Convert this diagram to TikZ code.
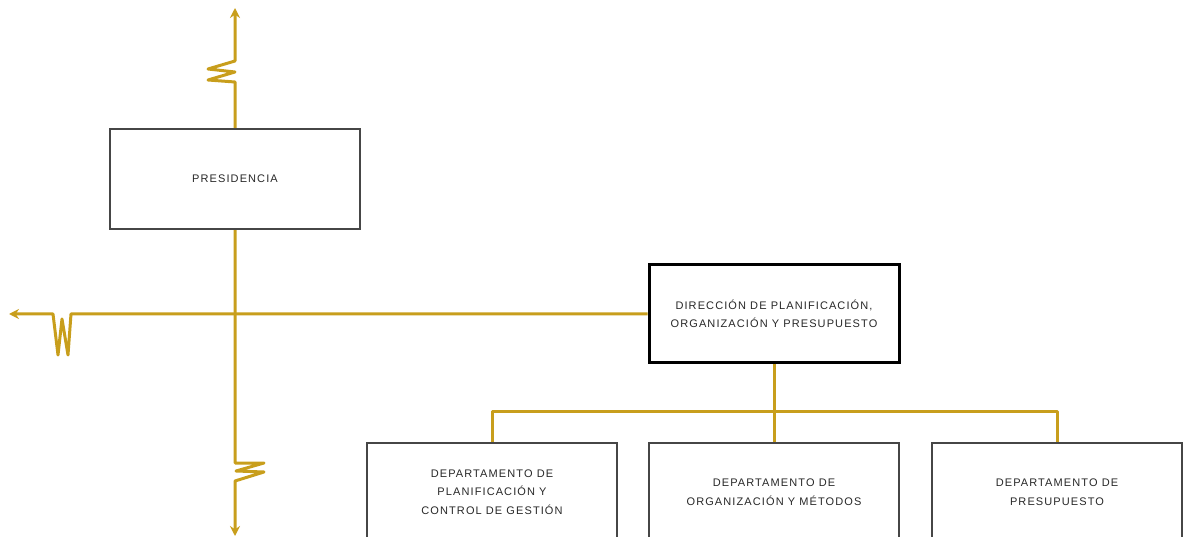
\documentclass[tikz,border=0pt]{standalone}
\usepackage{fontspec}
\setmainfont{Liberation Sans}[LetterSpace=10]
\usetikzlibrary{arrows.meta}
\definecolor{gold}{RGB}{200,158,28}
\definecolor{txt}{RGB}{40,40,40}
\definecolor{frame}{RGB}{70,70,70}
\tikzset{
  box/.style={draw=frame, line width=1.5pt, fill=white, minimum width=250pt, minimum height=100pt,
    inner sep=0pt, align=center, text=txt, font=\fontsize{11}{18.5}\selectfont},
  mainbox/.style={box, draw=black, line width=3pt, minimum width=250pt, minimum height=98pt},
  conn/.style={draw=gold, line width=3pt, line join=round},
  tip/.style={-{Stealth[length=10pt,width=10pt]}}
}
\begin{document}
\begin{tikzpicture}[x=1pt,y=-1pt]
\useasboundingbox (0,0) rectangle (1184,537);
\clip (0,0) rectangle (1184,537);
% nodes
\node[box] (pres) at (235,179) {PRESIDENCIA};
\node[mainbox] (dir) at (774,314) {DIRECCIÓN DE PLANIFICACIÓN,\\ORGANIZACIÓN Y PRESUPUESTO};
\node[box, minimum height=98pt] (b1) at (492,492) {DEPARTAMENTO DE\\PLANIFICACIÓN Y\\CONTROL DE GESTIÓN};
\node[box, minimum height=98pt] (b2) at (774,492) {DEPARTAMENTO DE\\ORGANIZACIÓN Y MÉTODOS};
\node[box, minimum height=98pt] (b3) at (1057,492) {DEPARTAMENTO DE\\PRESUPUESTO};
\coordinate (junc) at (pres.south |- dir.west);
\coordinate (topend) at (235,8);
\coordinate (botend) at (235,536);
\coordinate (leftend) at (9,314);
\coordinate (bus) at (774,411);
% vertical line through presidencia
\draw[conn, tip] (pres.north) -- (235,82) -- (208,80) -- (235,72) -- (208,69) -- (235,61) -- (topend);
\draw[conn, tip] (pres.south) -- (235,463) -- (264,463) -- (236,471) -- (264,472) -- (235,481) -- (botend);
% horizontal line
\draw[conn, tip] (dir.west) -- (junc) -- (71,314) -- (68,355) -- (62,319) -- (58,355) -- (53,314) -- (leftend);
% bus
\draw[conn] (dir.south) -- (bus);
\draw[conn] (b1.north) -- (b1.north |- bus) -- (b3.north |- bus) -- (b3.north);
\draw[conn] (b2.north) -- (b2.north |- bus);
% redraw frames on top of connectors
\node[box, fill=none] at (pres) {};
\node[mainbox, fill=none] at (dir) {};
\node[box, minimum height=98pt, fill=none] at (b1) {};
\node[box, minimum height=98pt, fill=none] at (b2) {};
\node[box, minimum height=98pt, fill=none] at (b3) {};
\end{tikzpicture}
\end{document}
